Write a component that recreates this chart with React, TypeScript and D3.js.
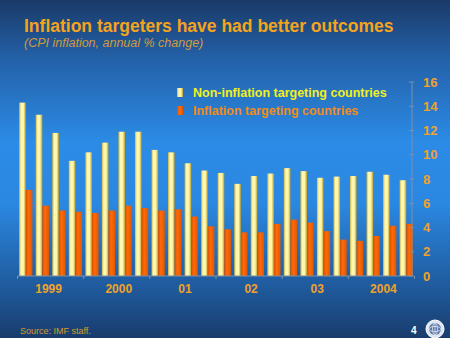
import React from "react";
import * as d3 from "d3";

const periods = [
  "1999Q1","1999Q2","1999Q3","1999Q4",
  "2000Q1","2000Q2","2000Q3","2000Q4",
  "2001Q1","2001Q2","2001Q3","2001Q4",
  "2002Q1","2002Q2","2002Q3","2002Q4",
  "2003Q1","2003Q2","2003Q3","2003Q4",
  "2004Q1","2004Q2","2004Q3","2004Q4",
];
const nonTargeting = [14.3,13.3,11.8,9.5,10.2,11.0,11.9,11.9,10.4,10.2,9.3,8.7,8.5,7.6,8.25,8.45,8.9,8.65,8.1,8.2,8.25,8.6,8.35,7.9];
const targeting = [7.1,5.8,5.4,5.3,5.2,5.4,5.8,5.6,5.4,5.5,4.9,4.1,3.85,3.6,3.6,4.3,4.65,4.4,3.7,3.0,2.9,3.3,4.15,4.3];
const yearLabels = ["1999","2000","01","02","03","2004"];
const yTicks = [0,2,4,6,8,10,12,14,16];
const seriesNames = ["Non-inflation targeting countries","Inflation targeting countries"];

const W = 450, H = 338;
const FONT = "'Liberation Sans', Arial, sans-serif";

export default function App() {
  const x = d3.scaleBand<string>().domain(periods).range([17.5, 414.5]).paddingInner(0.2).paddingOuter(0.1);
  const y = d3.scaleLinear().domain([0, 16]).range([276, 82]);
  const axisX = 412;
  const bw = x.bandwidth();
  const half = bw / 2;
  const step = x.step();
  const gap = step - bw;

  const yearTicks = d3.range(0, yearLabels.length + 1).map((i) =>
    i < yearLabels.length ? (x(periods[i * 4]) as number) - gap / 2 : (x(periods[periods.length - 1]) as number) + bw + gap / 2
  );

  return (
    <div style={{ position: "fixed", left: 0, top: 0, width: W, height: H, overflow: "hidden" }}>
      <svg width={W} height={H} style={{ display: "block" }}>
        <defs>
          <linearGradient id="bg" x1="0" y1="0" x2="0" y2="1">
            <stop offset="0" stopColor="#1a3a68" />
            <stop offset="0.18" stopColor="#2462aa" />
            <stop offset="0.42" stopColor="#2b8be6" />
            <stop offset="0.6" stopColor="#2b88e2" />
            <stop offset="0.85" stopColor="#1f5a9c" />
            <stop offset="1" stopColor="#193c6c" />
          </linearGradient>
          <linearGradient id="yel" x1="0" y1="0" x2="1" y2="0">
            <stop offset="0" stopColor="#c8b248" />
            <stop offset="0.3" stopColor="#fff8b4" />
            <stop offset="0.65" stopColor="#fff6a8" />
            <stop offset="1" stopColor="#b8a030" />
          </linearGradient>
          <linearGradient id="org" x1="0" y1="0" x2="1" y2="0">
            <stop offset="0" stopColor="#d84e00" />
            <stop offset="0.4" stopColor="#ff6a08" />
            <stop offset="1" stopColor="#e05800" />
          </linearGradient>
        </defs>
        <rect x={0} y={0} width={W} height={H} fill="url(#bg)" />

        <text x={24} y={32} fill="#f5a31c" fontFamily={FONT} fontWeight="bold" fontSize={17.5}>
          Inflation targeters have had better outcomes
        </text>
        <text x={24} y={47} fill="#d09a3c" fontFamily={FONT} fontStyle="italic" fontSize={12.5}>
          (CPI inflation, annual % change)
        </text>

        {periods.map((p, i) => (
          <g key={p}>
            <rect x={x(p) as number} y={y(nonTargeting[i])} width={half} height={y(0) - y(nonTargeting[i])} fill="url(#yel)" />
            <rect x={(x(p) as number) + half} y={y(targeting[i])} width={half} height={y(0) - y(targeting[i])} fill="url(#org)" />
          </g>
        ))}

        <line x1={yearTicks[0]} x2={axisX} y1={y(0)} y2={y(0)} stroke="#7f8fa8" strokeWidth={1} />
        {yearTicks.map((t, i) => (
          <line key={i} x1={t} x2={t} y1={y(0)} y2={y(0) + 3} stroke="#7f8fa8" strokeWidth={1} />
        ))}
        {yearLabels.map((l, i) => (
          <text key={l} x={(yearTicks[i] + yearTicks[i + 1]) / 2 + (i === 0 ? -2 : 2)} y={293} textAnchor="middle"
            fill="#f0a22a" fontFamily={FONT} fontWeight="bold" fontSize={12}>
            {l}
          </text>
        ))}

        <line x1={axisX} x2={axisX} y1={y(16)} y2={y(0)} stroke="#7f8fa8" strokeWidth={1} />
        {yTicks.map((t) => (
          <g key={t}>
            <line x1={axisX - 3} x2={axisX + 2} y1={y(t)} y2={y(t)} stroke="#7f8fa8" strokeWidth={1} />
            <text x={423} y={y(t) + 4.5} fill="#f0a22a" fontFamily={FONT} fontWeight="bold" fontSize={13}>
              {t}
            </text>
          </g>
        ))}

        <rect x={177} y={88} width={6} height={9} fill="url(#yel)" />
        <text x={193} y={97} fill="#f2f020" fontFamily={FONT} fontWeight="bold" fontSize={12.5}>
          {seriesNames[0]}
        </text>
        <rect x={177} y={106} width={6} height={9} fill="url(#org)" />
        <text x={193} y={115} fill="#f08c18" fontFamily={FONT} fontWeight="bold" fontSize={12.5}>
          {seriesNames[1]}
        </text>

        <text x={20} y={334} fill="#d89a30" fontFamily={FONT} fontSize={9}>
          Source: IMF staff.
        </text>
        <text x={411} y={334} fill="#ffffff" fontFamily={FONT} fontWeight="bold" fontSize={10}>
          4
        </text>
        <g transform="translate(435,329)">
          <circle r={9} fill="#dfe6f0" stroke="#ffffff" strokeWidth={1} />
          <circle r={6} fill="#5a78a8" />
          <ellipse rx={6} ry={2.5} fill="none" stroke="#dfe6f0" strokeWidth={0.8} />
          <line x1={0} x2={0} y1={-6} y2={6} stroke="#dfe6f0" strokeWidth={0.8} />
          <ellipse rx={2.5} ry={6} fill="none" stroke="#dfe6f0" strokeWidth={0.8} />
        </g>
      </svg>
    </div>
  );
}
